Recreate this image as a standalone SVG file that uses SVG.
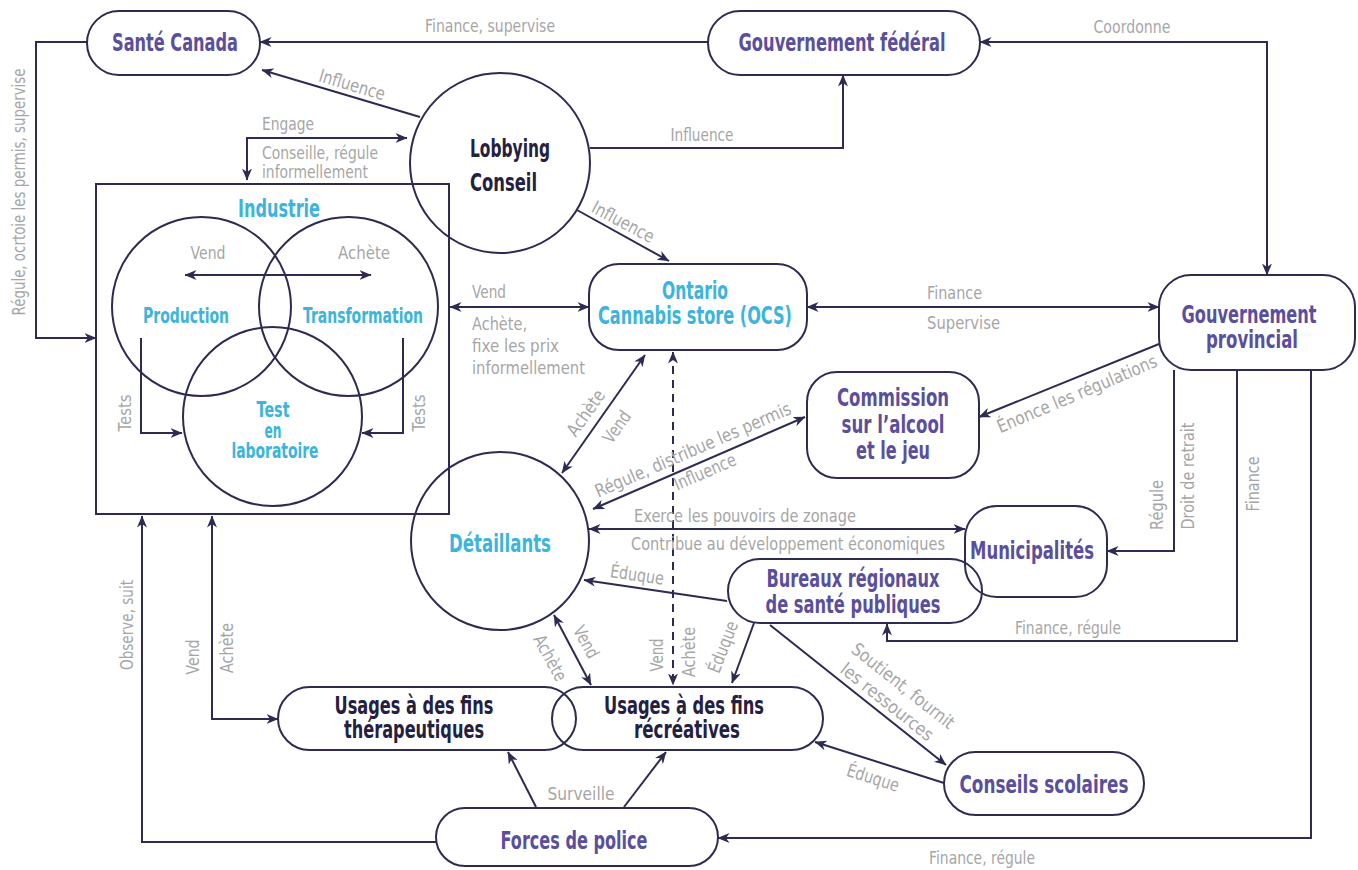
<svg xmlns="http://www.w3.org/2000/svg" width="1358" height="870" viewBox="0 0 1358 870">
<defs>
<marker id="a" viewBox="0 0 12 10" refX="11.5" refY="5" markerWidth="12" markerHeight="10" markerUnits="userSpaceOnUse" orient="auto-start-reverse">
<path d="M0,0 L12,5 L0,10 L3.5,5 Z" fill="#2d2b52"/>
</marker>
<style>
text{font-family:"DejaVu Sans","Liberation Sans",sans-serif}
.n{fill:none;stroke:#2d2b52;stroke-width:2}
.c{fill:none;stroke:#2d2b52;stroke-width:2}
.b{marker-start:url(#a);marker-end:url(#a)}
.e{marker-end:url(#a)}
.d{stroke-dasharray:8 6}
.p{fill:#5a4f9c;font-weight:bold;font-size:25px;text-anchor:middle}
.k{fill:#23213f;font-weight:bold;font-size:24px;text-anchor:middle}
.y{fill:#3cb4dc;font-weight:bold;font-size:22px;text-anchor:middle}
.g{fill:#a6a6a6;font-size:18px}
.m{text-anchor:middle}
.s{text-anchor:start}
</style>
</defs>
<rect width="1358" height="870" fill="#fff"/>

<g id="connectors">
<path class="c e" d="M87,42 L36,42 L36,338 L96,338"/>
<path class="c e" d="M708,42 L260,42"/>
<path class="c b" d="M980,42 L1267,42 L1267,275"/>
<path class="c e" d="M590,148 L843,148 L843,75"/>
<path class="c e" d="M420,117 L262,70"/>
<path class="c e" d="M577,210 L669,261"/>
<path class="c b" d="M247,180 L247,138 L407,138"/>
<path class="c b" d="M185,275 L371,275"/>
<path class="c e" d="M141,338 L141,433 L182,433"/>
<path class="c e" d="M403,338 L403,433 L362,433"/>
<path class="c b" d="M450,307 L589,307"/>
<path class="c b" d="M807,307 L1159,307"/>
<path class="c e" d="M1159,344 L979,417"/>
<path class="c b" d="M593,509 L805,417"/>
<path class="c b" d="M645,355 L562,473"/>
<path class="c b d" d="M673,352 L673,685"/>
<path class="c b" d="M589,529 L965,529"/>
<path class="c e" d="M727,601 L584,580"/>
<path class="c b" d="M554,615 L591,685"/>
<path class="c e" d="M754,623 L732,683"/>
<path class="c e" d="M770,625 L946,765"/>
<path class="c e" d="M944,783 L815,742"/>
<path class="c e" d="M536,807 L508,752"/>
<path class="c e" d="M624,807 L666,752"/>
<path class="c e" d="M436,842 L142,842 L142,516"/>
<path class="c b" d="M212,516 L212,719 L278,719"/>
<path class="c e" d="M1174,370 L1174,551 L1107,551"/>
<path class="c e" d="M1237,370 L1237,641 L887,641 L887,624"/>
<path class="c e" d="M1311,370 L1311,838 L718,838"/>

<text class="g m" transform="translate(25,192) rotate(-90)" textLength="247" lengthAdjust="spacingAndGlyphs">Régule, ocrtoie les permis, supervise</text>
<text class="g m" x="490" y="32" textLength="130" lengthAdjust="spacingAndGlyphs">Finance, supervise</text>
<text class="g m" x="1132" y="33" textLength="77" lengthAdjust="spacingAndGlyphs">Coordonne</text>
<text class="g m" transform="translate(352,85) rotate(16.6)" y="6" textLength="68" lengthAdjust="spacingAndGlyphs">Influence</text>
<text class="g m" x="702" y="141" textLength="63" lengthAdjust="spacingAndGlyphs">Influence</text>
<text class="g m" transform="translate(623,222) rotate(28)" y="6" textLength="68" lengthAdjust="spacingAndGlyphs">Influence</text>
<text class="g" x="262" y="130" textLength="52" lengthAdjust="spacingAndGlyphs">Engage</text>
<text class="g" x="262" y="159" textLength="116" lengthAdjust="spacingAndGlyphs">Conseille, régule</text>
<text class="g" x="262" y="178" textLength="106" lengthAdjust="spacingAndGlyphs">informellement</text>
<text class="g m" x="208" y="259" textLength="35" lengthAdjust="spacingAndGlyphs">Vend</text>
<text class="g m" x="364" y="259" textLength="52" lengthAdjust="spacingAndGlyphs">Achète</text>
<text class="g m" transform="translate(131,413) rotate(-90)" textLength="37" lengthAdjust="spacingAndGlyphs">Tests</text>
<text class="g m" transform="translate(425,413) rotate(-90)" textLength="37" lengthAdjust="spacingAndGlyphs">Tests</text>
<text class="g" x="472" y="298" textLength="34" lengthAdjust="spacingAndGlyphs">Vend</text>
<text class="g" x="472" y="330" textLength="55" lengthAdjust="spacingAndGlyphs">Achète,</text>
<text class="g" x="472" y="352" textLength="87" lengthAdjust="spacingAndGlyphs">fixe les prix</text>
<text class="g" x="472" y="374" textLength="113" lengthAdjust="spacingAndGlyphs">informellement</text>
<text class="g" x="927" y="299" textLength="55" lengthAdjust="spacingAndGlyphs">Finance</text>
<text class="g" x="927" y="329" textLength="73" lengthAdjust="spacingAndGlyphs">Supervise</text>
<text class="g m" transform="translate(1077,394) rotate(-23)" y="6" textLength="172" lengthAdjust="spacingAndGlyphs">Énonce les régulations</text>
<text class="g m" transform="translate(586,413) rotate(-54.7)" y="6" textLength="52" lengthAdjust="spacingAndGlyphs">Achète</text>
<text class="g m" transform="translate(617,427) rotate(-54.7)" y="6" textLength="35" lengthAdjust="spacingAndGlyphs">Vend</text>
<text class="g m" transform="translate(693,450) rotate(-23.5)" y="6" textLength="212" lengthAdjust="spacingAndGlyphs">Régule, distribue les permis</text>
<text class="g m" transform="translate(705,472) rotate(-23.5)" y="6" textLength="66" lengthAdjust="spacingAndGlyphs">Influence</text>
<text class="g" x="634" y="522" textLength="222" lengthAdjust="spacingAndGlyphs">Exerce les pouvoirs de zonage</text>
<text class="g" x="631" y="550" textLength="314" lengthAdjust="spacingAndGlyphs">Contribue au développement économiques</text>
<text class="g m" transform="translate(637,575) rotate(8.4)" y="6" textLength="54" lengthAdjust="spacingAndGlyphs">Éduque</text>
<text class="g m" transform="translate(663,655) rotate(-90)" textLength="33" lengthAdjust="spacingAndGlyphs">Vend</text>
<text class="g m" transform="translate(695,652) rotate(-90)" textLength="50" lengthAdjust="spacingAndGlyphs">Achète</text>
<text class="g m" transform="translate(550,658) rotate(61.4)" y="6" textLength="50" lengthAdjust="spacingAndGlyphs">Achète</text>
<text class="g m" transform="translate(586,642) rotate(61.4)" y="6" textLength="34" lengthAdjust="spacingAndGlyphs">Vend</text>
<text class="g m" transform="translate(723,647) rotate(-68.9)" y="6" textLength="54" lengthAdjust="spacingAndGlyphs">Éduque</text>
<text class="g m" transform="translate(903,686) rotate(38.5)" y="6" textLength="126" lengthAdjust="spacingAndGlyphs">Soutient, fournit</text>
<text class="g m" transform="translate(887,702) rotate(38.5)" y="6" textLength="113" lengthAdjust="spacingAndGlyphs">les ressources</text>
<text class="g m" transform="translate(873,778) rotate(17.6)" y="6" textLength="54" lengthAdjust="spacingAndGlyphs">Éduque</text>
<text class="g m" x="581" y="800" textLength="67" lengthAdjust="spacingAndGlyphs">Surveille</text>
<text class="g m" transform="translate(133,625) rotate(-90)" textLength="90" lengthAdjust="spacingAndGlyphs">Observe, suit</text>
<text class="g m" transform="translate(199,657) rotate(-90)" textLength="35" lengthAdjust="spacingAndGlyphs">Vend</text>
<text class="g m" transform="translate(233,648) rotate(-90)" textLength="50" lengthAdjust="spacingAndGlyphs">Achète</text>
<text class="g m" transform="translate(1163,505) rotate(-90)" textLength="50" lengthAdjust="spacingAndGlyphs">Régule</text>
<text class="g m" transform="translate(1194,476) rotate(-90)" textLength="107" lengthAdjust="spacingAndGlyphs">Droit de retrait</text>
<text class="g m" transform="translate(1259,484) rotate(-90)" textLength="55" lengthAdjust="spacingAndGlyphs">Finance</text>
<text class="g m" x="1068" y="634" textLength="106" lengthAdjust="spacingAndGlyphs">Finance, régule</text>
<text class="g m" x="982" y="864" textLength="106" lengthAdjust="spacingAndGlyphs">Finance, régule</text>
</g>

<g id="sante"><rect class="n" x="87" y="11" width="173" height="64" rx="32"/><text class="p" x="175" y="51" textLength="126" lengthAdjust="spacingAndGlyphs">Santé Canada</text></g>
<g id="federal"><rect class="n" x="708" y="11" width="272" height="64" rx="32"/><text class="p" x="842" y="51" textLength="207" lengthAdjust="spacingAndGlyphs">Gouvernement fédéral</text></g>
<g id="lobbying"><circle class="n" cx="500" cy="163" r="90"/><text class="k s" x="470" y="157" textLength="80" lengthAdjust="spacingAndGlyphs">Lobbying</text><text class="k s" x="470" y="191" textLength="67" lengthAdjust="spacingAndGlyphs">Conseil</text></g>
<g id="industrie">
<rect class="n" x="96" y="184" width="353" height="330"/>
<circle class="n" cx="201.5" cy="306.5" r="89.5"/>
<circle class="n" cx="348.5" cy="306.5" r="89.5"/>
<circle class="n" cx="272.5" cy="416.5" r="89.5"/>
<text class="y" x="279" y="217" style="font-size:24px" textLength="82" lengthAdjust="spacingAndGlyphs">Industrie</text>
<text class="y" x="186" y="323" textLength="86" lengthAdjust="spacingAndGlyphs">Production</text>
<text class="y" x="363" y="323" textLength="120" lengthAdjust="spacingAndGlyphs">Transformation</text>
<text class="y" x="273" y="417" textLength="33" lengthAdjust="spacingAndGlyphs">Test</text>
<text class="y" x="273" y="438" textLength="17" lengthAdjust="spacingAndGlyphs">en</text>
<text class="y" x="275" y="458" textLength="87" lengthAdjust="spacingAndGlyphs">laboratoire</text>
</g>
<g id="ocs"><rect class="n" x="589" y="264" width="218" height="86" rx="30"/><text class="y" x="695" y="299" style="font-size:24px" textLength="66" lengthAdjust="spacingAndGlyphs">Ontario</text><text class="y" x="695" y="324" style="font-size:24px" textLength="194" lengthAdjust="spacingAndGlyphs">Cannabis store (OCS)</text></g>
<g id="provincial"><rect class="n" x="1159" y="275" width="196" height="95" rx="32"/><text class="p" x="1249" y="323" textLength="135" lengthAdjust="spacingAndGlyphs">Gouvernement</text><text class="p" x="1252" y="348" textLength="92" lengthAdjust="spacingAndGlyphs">provincial</text></g>
<g id="commission"><rect class="n" x="807" y="372" width="172" height="106" rx="30"/><text class="p" x="893" y="406" textLength="112" lengthAdjust="spacingAndGlyphs">Commission</text><text class="p" x="893" y="433" textLength="103" lengthAdjust="spacingAndGlyphs">sur l’alcool</text><text class="p" x="893" y="459" textLength="74" lengthAdjust="spacingAndGlyphs">et le jeu</text></g>
<g id="detaillants"><circle class="n" cx="500" cy="541" r="89"/><text class="y" x="500" y="552" style="font-size:25px" textLength="102" lengthAdjust="spacingAndGlyphs">Détaillants</text></g>
<g id="municipalites"><rect class="n" x="965" y="506" width="142" height="91" rx="32"/><text class="p" x="1032" y="559" textLength="124" lengthAdjust="spacingAndGlyphs">Municipalités</text></g>
<g id="bureaux"><rect class="n" x="728" y="559" width="254" height="64" rx="32"/><text class="p" x="853" y="587" textLength="173" lengthAdjust="spacingAndGlyphs">Bureaux régionaux</text><text class="p" x="853" y="613" textLength="175" lengthAdjust="spacingAndGlyphs">de santé publiques</text></g>
<g id="therapeutiques"><rect class="n" x="278" y="687" width="298" height="63" rx="31.5"/><text class="k" x="414" y="714" textLength="159" lengthAdjust="spacingAndGlyphs">Usages à des fins</text><text class="k" x="414" y="738" textLength="140" lengthAdjust="spacingAndGlyphs">thérapeutiques</text></g>
<g id="recreatives"><rect class="n" x="552" y="687" width="271" height="63" rx="31.5"/><text class="k" x="684" y="714" textLength="160" lengthAdjust="spacingAndGlyphs">Usages à des fins</text><text class="k" x="687" y="738" textLength="106" lengthAdjust="spacingAndGlyphs">récréatives</text></g>
<g id="conseils"><rect class="n" x="944" y="752" width="200" height="63" rx="31.5"/><text class="p" x="1044" y="793" textLength="169" lengthAdjust="spacingAndGlyphs">Conseils scolaires</text></g>
<g id="police"><rect class="n" x="436" y="808" width="282" height="58" rx="29"/><text class="p" x="574" y="849" textLength="147" lengthAdjust="spacingAndGlyphs">Forces de police</text></g>
</svg>
